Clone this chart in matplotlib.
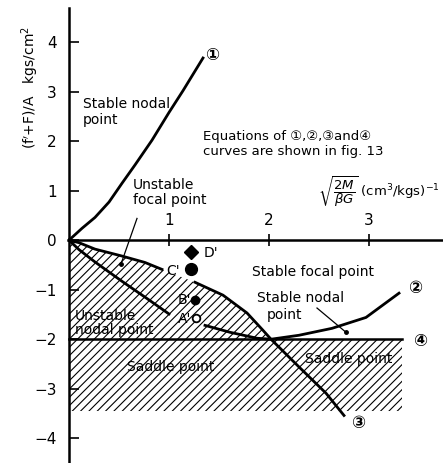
import matplotlib
matplotlib.use("Agg")
import matplotlib.pyplot as plt

plt.rcParams["font.family"] = ["DejaVu Sans", "Noto Sans CJK JP"]
plt.rcParams["hatch.linewidth"] = 0.8

# curve 1 (stable nodal / stable focal boundary, upper quadrant)
c1_x = [0.0, 0.13, 0.26, 0.40, 0.53, 0.66, 0.83, 1.00, 1.14, 1.34]
c1_y = [0.0, 0.24, 0.46, 0.77, 1.15, 1.52, 2.02, 2.58, 3.02, 3.68]

# curve through C' down to (2,-2) then on to label 3
ca_x = [0.0, 0.10, 0.26, 0.53, 0.76, 0.93]
ca_y = [0.0, -0.05, -0.18, -0.32, -0.45, -0.59]
cb_x = [1.26, 1.54, 1.78, 1.94, 2.02, 2.30, 2.57, 2.75]
cb_y = [-0.85, -1.11, -1.47, -1.82, -2.00, -2.56, -3.09, -3.54]

# curve from origin under A'/B' to (2,-2) then rising to label 2
cc_x = [0.0, 0.10, 0.26, 0.53, 0.76, 1.00]
cc_y = [0.0, -0.19, -0.44, -0.83, -1.15, -1.49]
cd_x = [1.36, 1.61, 1.88, 2.02, 2.30, 2.63, 2.97, 3.30]
cd_y = [-1.72, -1.86, -1.98, -2.00, -1.92, -1.78, -1.56, -1.07]

# line 4 and hatched (unstable) area
line4_x = [0.0, 3.33]
line4_y = [-2.0, -2.0]
hatch_x = [0.0, 0.10, 0.26, 0.53, 0.76, 0.93, 1.26, 1.54, 1.78, 1.94, 2.02, 3.33]
hatch_top = [0.0, -0.05, -0.18, -0.32, -0.45, -0.59, -0.85, -1.11, -1.47,
             -1.82, -2.00, -2.00]
hatch_bottom = -3.45

# experimental points
pt_names = ["D'", "C'", "B'", "A'"]
pt_x = [1.22, 1.22, 1.26, 1.27]
pt_y = [-0.24, -0.59, -1.21, -1.58]

fig = plt.figure(figsize=(4.43, 4.63), dpi=100)
ax = fig.add_axes([68 / 443, 0.0, 1 - 68 / 443, 1 - 8 / 463])
ax.set_xlim(-0.01, 3.74)
ax.set_ylim(-4.5, 4.69)

ax.fill_between(hatch_x, hatch_top, hatch_bottom, facecolor="none",
                edgecolor="black", linewidth=0, hatch="////")

lw = 2.0
ax.plot(c1_x, c1_y, color="black", lw=lw)
ax.plot(ca_x, ca_y, color="black", lw=lw)
ax.plot(cb_x, cb_y, color="black", lw=lw)
ax.plot(cc_x, cc_y, color="black", lw=lw)
ax.plot(cd_x, cd_y, color="black", lw=lw)
ax.plot(line4_x, line4_y, color="black", lw=1.8)

# points
ax.plot(pt_x[0], pt_y[0], marker="D", color="black", markersize=7.5, ls="none")
ax.plot(pt_x[1], pt_y[1], marker="o", color="black", markersize=8.5, ls="none")
ax.plot(pt_x[2], pt_y[2], marker="o", color="black", markersize=6, ls="none")
ax.plot(pt_x[3], pt_y[3], marker="o", mfc="white", mec="black", mew=1.3,
        markersize=5.5, ls="none")
ax.text(1.35, pt_y[0] - 0.02, pt_names[0], fontsize=10, va="center", ha="left")
ax.text(1.11, pt_y[1] - 0.04, pt_names[1], fontsize=10, va="center", ha="right")
ax.text(1.22, pt_y[2], pt_names[2], fontsize=10, va="center", ha="right")
ax.text(1.22, pt_y[3] - 0.02, pt_names[3], fontsize=10, va="center", ha="right")

# region labels
fs = 10
ax.text(0.14, 2.89, "Stable nodal\npoint", fontsize=fs, va="top", ha="left",
        linespacing=1.15)
ax.text(0.64, 1.25, "Unstable\nfocal point", fontsize=fs, va="top", ha="left",
        linespacing=1.05)
ax.plot([0.68, 0.52], [0.44, -0.48], color="black", lw=0.9)
ax.plot(0.52, -0.48, marker="o", color="black", markersize=2.5)
ax.text(1.34, 2.22, "Equations of \u2460,\u2461,\u2462and\u2463\n"
        "curves are shown in fig. 13", fontsize=9.5, va="top", ha="left",
        linespacing=1.2)
ax.text(1.83, -0.65, "Stable focal point", fontsize=fs, va="center", ha="left")
ax.text(1.88, -1.17, "Stable nodal", fontsize=fs, va="center", ha="left")
ax.text(1.98, -1.52, "point", fontsize=fs, va="center", ha="left")
ax.plot([2.48, 2.77], [-1.37, -1.86], color="black", lw=0.9)
ax.plot(2.77, -1.86, marker="o", color="black", markersize=2.5)
ax.text(2.36, -2.40, "Saddle point", fontsize=fs, va="center", ha="left")
ax.text(0.58, -2.57, "Saddle point", fontsize=fs, va="center", ha="left")
ax.text(0.06, -1.38, "Unstable\nnodal point", fontsize=fs, va="top", ha="left",
        linespacing=1.0)

# curve numbers
cfs = 12
for label, x, y in [("\u2460", 1.43, 3.74), ("\u2461", 3.46, -0.97),
                    ("\u2462", 2.89, -3.70), ("\u2463", 3.51, -2.04)]:
    ax.text(x, y, label, fontsize=cfs, fontweight="bold", va="center",
            ha="center")

# axis labels
ax.text(3.1, 0.97, r"$\sqrt{\dfrac{2M}{\beta G}}$ (cm$^3$/kgs)$^{-1}$",
        fontsize=9.5, va="center", ha="center")
fig.text(30 / 443, 1 - 87 / 463, "(f$'$+F)/A   kgs/cm$^2$", rotation=90,
         fontsize=10, va="center", ha="center")

# spines: axis lines through the origin
ax.spines["right"].set_visible(False)
ax.spines["bottom"].set_visible(False)
ax.spines["top"].set_position(("data", 0))
ax.spines["left"].set_position(("data", 0))
ax.spines["top"].set_linewidth(1.8)
ax.spines["left"].set_linewidth(1.8)
ax.patch.set_visible(False)

ax.xaxis.set_ticks_position("top")
ax.set_xticks([1, 2, 3])
ax.tick_params(axis="x", direction="inout", length=9, width=1.2, pad=4,
               labelsize=11)
ax.set_yticks([-4, -3, -2, -1, 0, 1, 2, 3, 4])
ax.tick_params(axis="y", direction="in", length=7, width=1.2, pad=9,
               labelsize=11)

fig.savefig("out.png", dpi=100)
